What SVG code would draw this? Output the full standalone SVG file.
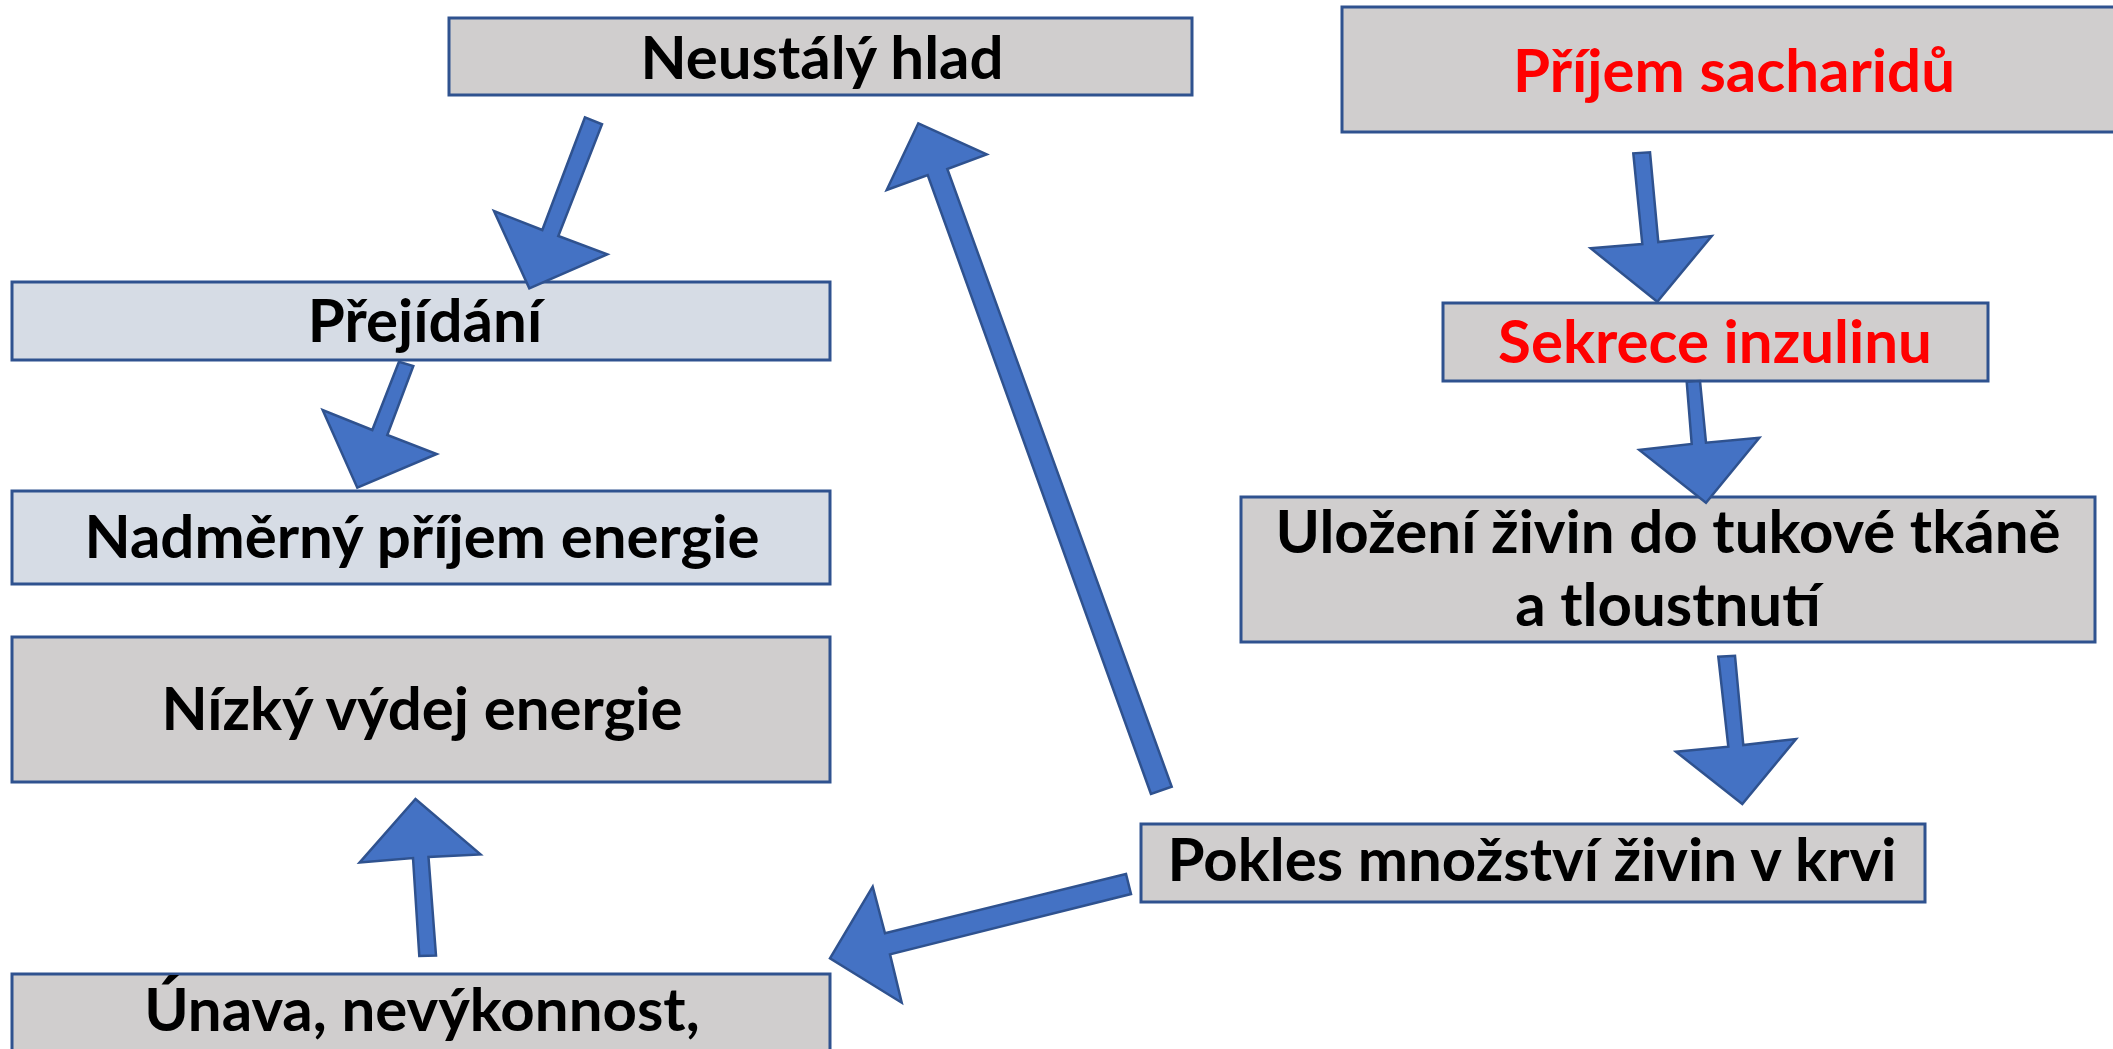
<svg xmlns="http://www.w3.org/2000/svg" width="2113" height="1049" viewBox="0 0 2113 1049">
<style>
.box{stroke:#2F528F;stroke-width:3}
.gray{fill:#D0CECE}
.blue{fill:#D6DCE5}
.t{font-family:Lato,"Liberation Sans",sans-serif;font-weight:bold;font-size:60px;fill:#000;text-anchor:middle}
.red{fill:#FF0000}
.arr{fill:#4472C4;stroke:#2F528F;stroke-width:2.5;stroke-linejoin:miter}
</style>
<rect width="2113" height="1049" fill="#fff"/>
<g id="n-hlad"><rect class="box gray" x="449" y="18" width="743" height="77"/><text class="t" x="822" y="79">Neustálý hlad</text></g>
<g id="n-sacharidy"><rect class="box gray" x="1342" y="7" width="780" height="125"/><text class="t red" x="1734" y="92">Příjem sacharidů</text></g>
<g id="n-inzulin"><rect class="box gray" x="1443" y="303" width="545" height="78"/><text class="t red" x="1715" y="363">Sekrece inzulinu</text></g>
<g id="n-prejidani"><rect class="box blue" x="12" y="282" width="818" height="78"/><text class="t" x="425" y="342">Přejídání</text></g>
<g id="n-nadmerny"><rect class="box blue" x="12" y="491" width="818" height="93"/><text class="t" x="422" y="558">Nadměrný příjem energie</text></g>
<g id="n-nizky"><rect class="box gray" x="12" y="637" width="818" height="145"/><text class="t" x="422" y="730">Nízký výdej energie</text></g>
<g id="n-unava"><rect class="box gray" x="12" y="974" width="818" height="90"/><text class="t" x="422" y="1031">Únava, nevýkonnost,</text></g>
<g id="n-ulozeni"><rect class="box gray" x="1241" y="497" width="854" height="145"/><text class="t" x="1668" y="553">Uložení živin do tukové tkáně</text><text class="t" x="1668" y="626">a tloustnutí</text></g>
<g id="n-pokles"><rect class="box gray" x="1141" y="824" width="784" height="78"/><text class="t" x="1532" y="881">Pokles množství živin v krvi</text></g>
<g id="connectors">
<polygon class="arr" points="585,117.3 542.3,230 494,211 529.3,288.3 607.3,254.3 558.3,236 602,124.3"/>
<polygon class="arr" points="399,361.7 372.3,430 322.7,410 357.3,487.7 436.7,454 387.3,435 413.3,366"/>
<polygon class="arr" points="1151,794 927.7,175 886.7,190 918.3,123.3 986.7,154.3 947.3,169 1171.7,786.7"/>
<polygon class="arr" points="1633.3,153.3 1642.3,244 1590.7,248.3 1657.3,301.7 1711.7,236 1658.3,242 1650,152.3"/>
<polygon class="arr" points="1686.7,381.7 1691.7,444 1639.3,450 1706,502.7 1759.3,437.7 1706,442.7 1700,381"/>
<polygon class="arr" points="1718.3,656.7 1728.3,746.7 1676,751.7 1742.3,804 1796,739 1743.3,745 1735,655.7"/>
<polygon class="arr" points="1126,874 885,933.3 872.7,886.7 830,958.3 901.7,1002.7 890,954.3 1131,894"/>
<polygon class="arr" points="419.3,956 413,858 359.6,862.6 415.5,799 480.5,854.4 428.5,857 436,955.5"/>
</g>
</svg>
